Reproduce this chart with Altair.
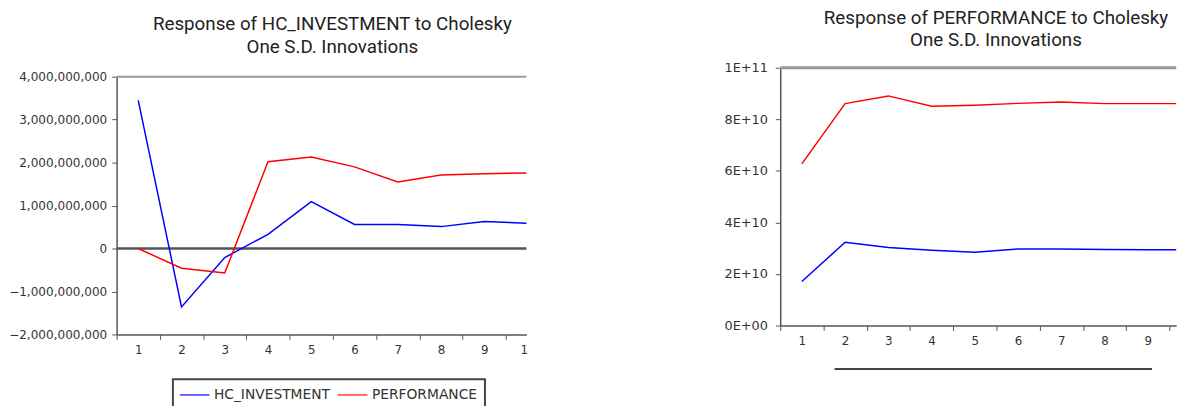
import altair as alt
import pandas as pd

# ---------------- data ----------------
periods = [1, 2, 3, 4, 5, 6, 7, 8, 9, 10]
series = ["HC_INVESTMENT", "PERFORMANCE"]
colors = ["#0000ff", "#ff0000"]

# Response of HC_INVESTMENT
left_hc = [3.45e9, -1.36e9, -0.21e9, 0.33e9, 1.09e9, 0.56e9, 0.56e9, 0.51e9, 0.63e9, 0.59e9]
left_perf = [0.0, -0.46e9, -0.57e9, 2.02e9, 2.13e9, 1.90e9, 1.55e9, 1.71e9, 1.74e9, 1.76e9]

# Response of PERFORMANCE
right_hc = [17.1e9, 32.3e9, 30.3e9, 29.2e9, 28.4e9, 29.7e9, 29.7e9, 29.5e9, 29.4e9, 29.4e9]
right_perf = [62.7e9, 86.1e9, 89.1e9, 85.1e9, 85.5e9, 86.2e9, 86.7e9, 86.1e9, 86.1e9, 86.1e9]

left_y_ticks = [-2e9, -1e9, 0, 1e9, 2e9, 3e9, 4e9]
right_y_ticks = [0, 2e10, 4e10, 6e10, 8e10, 1e11]
x_tick_positions = [0.5, 1.5, 2.5, 3.5, 4.5, 5.5, 6.5, 7.5, 8.5, 9.5]

left_title = ["Response of HC_INVESTMENT to Cholesky", "One S.D. Innovations"]
right_title = ["Response of PERFORMANCE to Cholesky", "One S.D. Innovations"]


def long_df(a, b):
    return pd.DataFrame({
        "period": periods * 2,
        "value": a + b,
        "series": [series[0]] * len(a) + [series[1]] * len(b),
    })


FONT = "DejaVu Sans"
TFONT = "Roboto"
AX = "#555555"
TXT = "#333333"

LW, LH = 415, 270
RW, RH = 401, 261
band = 43.8


def x_axis(last_label):
    return alt.Axis(
        values=x_tick_positions,
        labelExpr="datum.value == 9.5 ? '%s' : format(datum.value + 0.5, 'd')" % last_label,
        labelOffset=band / 2,
        labelAlign={"expr": "datum.value == 9.5 ? 'right' : 'center'"},
        tickSize=5, tickColor=AX, domainColor=AX, domainWidth=1.5,
        labelColor=TXT, labelFont=FONT, labelFontSize=12, labelPadding=5,
        labelOverlap=False, grid=False, title=None,
    )


# ---------------- left panel ----------------
dfl = long_df(left_hc, left_perf)
xl = alt.Scale(domain=[0.5, 0.5 + LW / band], nice=False, zero=False)
yl = alt.Scale(domain=[-2e9, 4e9], range=[LH, 9], nice=False, zero=False)
yl_axis = alt.Axis(values=left_y_ticks, format=",", labelExpr="format(datum.value, ',')",
                   tickSize=5, tickColor=AX, domainColor=AX, domainWidth=1.5,
                   labelColor=TXT, labelFont=FONT, labelFontSize=12.2, labelPadding=5,
                   grid=False, title=None)

legend_l = alt.Legend(
    orient="none", legendX=57, legendY=315.5, direction="horizontal",
    title=None, symbolType="M-2,0H2", symbolSize=225, symbolOffset=6.5,
    symbolStrokeWidth=2, symbolOpacity=0.6,
    labelFont=FONT, labelFontSize=14, labelColor=TXT,
    labelOffset=11, columnPadding=3, padding=7,
    strokeColor="#444444")

left_lines = alt.Chart(dfl).mark_line(strokeWidth=1.5, clip=True).encode(
    x=alt.X("period:Q", scale=xl, axis=x_axis("1")),
    y=alt.Y("value:Q", scale=yl, axis=yl_axis),
    color=alt.Color("series:N", scale=alt.Scale(domain=series, range=colors),
                    legend=legend_l),
)

left_top = alt.Chart(pd.DataFrame({"value": [4e9]})).mark_rule(
    color="#999999", strokeWidth=2).encode(y=alt.Y("value:Q", scale=yl, axis=yl_axis))
left_zero = alt.Chart(pd.DataFrame({"value": [0]})).mark_rule(
    color="#555555", strokeWidth=2.5).encode(y=alt.Y("value:Q", scale=yl, axis=yl_axis))

left = alt.layer(left_top, left_zero, left_lines).properties(
    width=LW, height=LH,
    title=alt.TitleParams(left_title, font=TFONT, fontSize=19, fontWeight="normal",
                          color="#222222", anchor="middle", frame="group",
                          offset=10.5, dx=11, lineHeight=24),
)

# ---------------- right panel ----------------
dfr = long_df(right_hc, right_perf)
xr = alt.Scale(domain=[0.5, 0.5 + RW / band], nice=False, zero=False)
yr = alt.Scale(domain=[0, 1e11], nice=False, zero=False)
yr_axis = alt.Axis(
    values=right_y_ticks,
    labelExpr="datum.value == 0 ? '0E+00' : upper(format(datum.value, '.0e'))",
    tickSize=5, tickColor=AX, domainColor=AX, domainWidth=1.5,
    labelColor=TXT, labelFont=FONT, labelFontSize=13, labelPadding=8,
    grid=False, title=None)

right_lines = alt.Chart(dfr).mark_line(strokeWidth=1.5, clip=True).encode(
    x=alt.X("period:Q", scale=xr, axis=x_axis("")),
    y=alt.Y("value:Q", scale=yr, axis=yr_axis),
    color=alt.Color("series:N", scale=alt.Scale(domain=series, range=colors), legend=None),
)

right_top = alt.Chart(pd.DataFrame({"value": [1e11]})).mark_rule(
    color="#999999", strokeWidth=3).encode(y=alt.Y("value:Q", scale=yr, axis=yr_axis))
right_legend_edge = alt.Chart(pd.DataFrame({"v": [0]})).mark_rule(
    color="#444444", strokeWidth=2).encode(
    x=alt.value(55), x2=alt.value(376.5), y=alt.value(305))

right = alt.layer(right_top, right_lines, right_legend_edge).properties(
    width=RW, height=RH,
    title=alt.TitleParams(right_title, font=TFONT, fontSize=19, fontWeight="normal",
                          color="#222222", anchor="middle", frame="group",
                          offset=12, dx=18, lineHeight=22),
)

chart = alt.hconcat(left, right, spacing=198).resolve_legend(
    color="independent").configure_view(stroke=None).configure_legend(
    strokeWidth=2).properties(
    padding={"left": 0, "top": -1, "right": 0, "bottom": 0},
    background="white",
)

chart.save("out.html", embed_options={"renderer": "svg", "actions": False})
